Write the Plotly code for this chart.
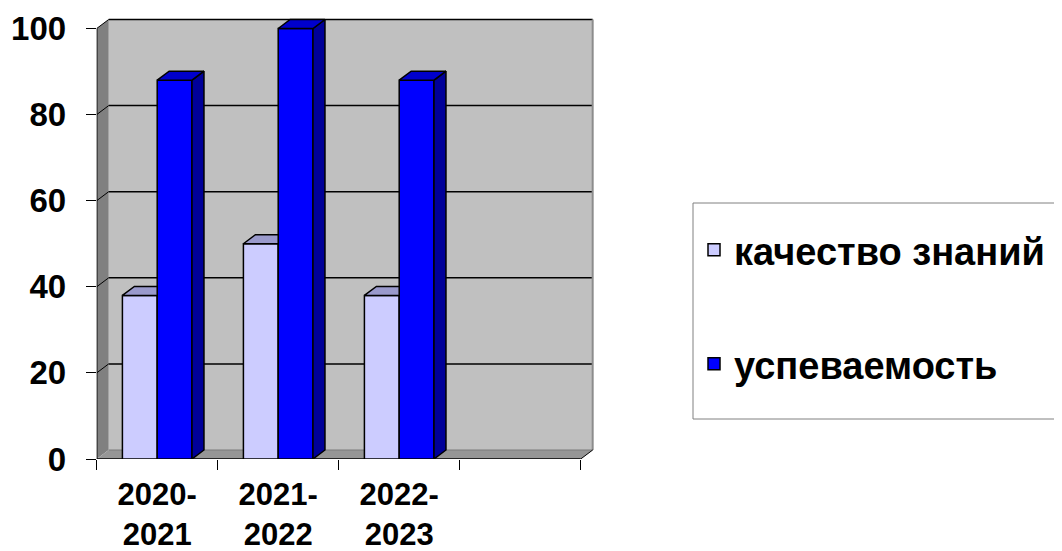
import plotly.graph_objects as go

# ---- data ----
categories = ["2020-<br>2021", "2021-<br>2022", "2022-<br>2023", ""]
series_names = ["качество знаний", "успеваемость"]
quality = [38, 50, 38]
progress = [88, 100, 88]
y_ticks = [0, 20, 40, 60, 80, 100]

# ---- styling / geometry constants ----
OFF = 8                       # page body margin of the html page
W, H = 1062 - OFF, 551 - OFF  # figure size so that it ends at the window edge
FAM = "Liberation Sans, Arial, sans-serif"
FONT = dict(family=FAM, size=33, color="black", weight="bold")
XFONT = dict(family=FAM, size=31, color="black", weight="bold")
LFONT = dict(family=FAM, size=38, color="black", weight="bold")
BARGAP = 0.425
DX, DY = 0.099, 2.09            # 3-D depth in data units
x_left_px, cat_px = 96.7 - OFF, 121.0
x_right_px = 610.0 - OFF
y0_px, y_top_px = 459.0 - OFF, 15.0 - OFF
px_per_unit = 4.305

x_min = -0.5
x_max = (x_right_px - x_left_px) / cat_px - 0.5
y_max = (y0_px - y_top_px) / px_per_unit
n_cat = len(categories)
x_end = n_cat - 0.5

light_front, light_top = "#CCCCFF", "#9A9ACC"
blue_front, blue_top, blue_side = "#0000FF", "#0000CC", "#000099"
EDGE = dict(color="black", width=1.5)

fig = go.Figure()
xs = list(range(len(quality)))
fig.add_trace(go.Bar(x=xs, y=quality, name=series_names[0],
                     marker=dict(color=light_front, line=EDGE), legend="legend"))
fig.add_trace(go.Bar(x=xs, y=progress, name=series_names[1],
                     marker=dict(color=blue_front, line=EDGE), legend="legend2"))

bw = (1 - BARGAP) / 2
# light bars: top faces (clipped where the neighbouring bar hides them)
tx, ty = [], []
for i, v in enumerate(quality):
    a, b = i - bw, i
    tx += [a, b, b, a + DX, a, None]
    ty += [v, v, v + DY, v + DY, v, None]
fig.add_trace(go.Scatter(x=tx, y=ty, fill="toself", fillcolor=light_top, mode="lines",
                         line=EDGE, showlegend=False, hoverinfo="skip"))
# blue bars: top and side faces
tx, ty, sx, sy = [], [], [], []
for i, v in enumerate(progress):
    a, b = i, i + bw
    tx += [a, b, b + DX, a + DX, a, None]
    ty += [v, v, v + DY, v + DY, v, None]
    sx += [b, b + DX, b + DX, b, b, None]
    sy += [0, DY, v + DY, v, 0, None]
fig.add_trace(go.Scatter(x=sx, y=sy, fill="toself", fillcolor=blue_side, mode="lines",
                         line=EDGE, showlegend=False, hoverinfo="skip"))
fig.add_trace(go.Scatter(x=tx, y=ty, fill="toself", fillcolor=blue_top, mode="lines",
                         line=EDGE, showlegend=False, hoverinfo="skip"))

shapes = []
# back wall
shapes.append(dict(type="rect", xref="x", yref="y", x0=x_min + DX, x1=x_end + DX, y0=DY, y1=y_ticks[-1] + DY,
                   fillcolor="#C0C0C0", line=dict(width=0), layer="below"))
# left wall
shapes.append(dict(type="path", xref="x", yref="y",
                   path=f"M{x_min},0 L{x_min + DX},{DY} L{x_min + DX},{y_ticks[-1] + DY} L{x_min},{y_ticks[-1]} Z",
                   fillcolor="#808080", line=dict(width=0), layer="below"))
# floor
shapes.append(dict(type="path", xref="x", yref="y",
                   path=f"M{x_min},0 L{x_end},0 L{x_end + DX},{DY} L{x_min + DX},{DY} Z",
                   fillcolor="#969696", line=dict(width=0), layer="below"))
# gridlines on back and side wall
for k in y_ticks[1:]:
    shapes.append(dict(type="line", xref="x", yref="y", x0=x_min + DX, x1=x_end + DX, y0=k + DY, y1=k + DY,
                       line=dict(color="black", width=1.5), layer="below"))
    shapes.append(dict(type="line", xref="x", yref="y", x0=x_min, x1=x_min + DX, y0=k, y1=k + DY,
                       line=dict(color="black", width=1), layer="below"))
# wall edges
shapes.append(dict(type="line", xref="x", yref="y", x0=x_end + DX, x1=x_end + DX, y0=DY, y1=y_ticks[-1] + DY,
                   line=dict(color="#8C8C8C", width=2), layer="below"))
shapes.append(dict(type="line", xref="x", yref="y", x0=x_min + DX, x1=x_end + DX, y0=DY, y1=DY,
                   line=dict(color="#7A7A7A", width=1), layer="below"))
shapes.append(dict(type="line", xref="x", yref="y", x0=x_end, x1=x_end + DX, y0=0, y1=DY,
                   line=dict(color="black", width=1), layer="below"))
# axis lines
shapes.append(dict(type="line", xref="x", yref="y", x0=x_min, x1=x_min, y0=0, y1=y_ticks[-1],
                   line=dict(color="black", width=1.5), layer="below"))
shapes.append(dict(type="line", xref="x", yref="y", x0=x_min, x1=x_end, y0=0, y1=0,
                   line=dict(color="black", width=1.5), layer="below"))
# legend box (runs off the right edge, so no right border)
lb_x0, lb_x1 = (693 - OFF) / W, 1.05
lb_y0, lb_y1 = (H - (419 - OFF)) / H, (H - (203 - OFF)) / H
shapes.append(dict(type="rect", xref="paper", yref="paper", x0=lb_x0, x1=lb_x1, y0=lb_y0, y1=lb_y1,
                   fillcolor="white", line=dict(width=0), layer="below"))
box_line = dict(color="#808080", width=1)
shapes.append(dict(type="line", xref="paper", yref="paper", x0=lb_x0, x1=lb_x1, y0=lb_y1, y1=lb_y1, line=box_line, layer="below"))
shapes.append(dict(type="line", xref="paper", yref="paper", x0=lb_x0, x1=lb_x1, y0=lb_y0, y1=lb_y0, line=box_line, layer="below"))
shapes.append(dict(type="line", xref="paper", yref="paper", x0=lb_x0, x1=lb_x0, y0=lb_y0, y1=lb_y1, line=box_line, layer="below"))

fig.update_layout(
    width=W, height=H,
    margin=dict(l=0, r=0, t=0, b=0, autoexpand=False),
    paper_bgcolor="white", plot_bgcolor="rgba(0,0,0,0)",
    barmode="group", bargap=BARGAP, bargroupgap=0,
    font=FONT,
    shapes=shapes,
    xaxis=dict(domain=[x_left_px / W, x_right_px / W], range=[x_min, x_max],
               tickvals=list(range(n_cat)), ticktext=categories, ticks="", showgrid=False,
               zeroline=False, showline=False, tickfont=XFONT, ticklabelstandoff=14,
               minor=dict(tickvals=[i - 0.5 for i in range(n_cat + 1)], ticks="outside", ticklen=10,
                          tickcolor="black", tickwidth=1, showgrid=False)),
    yaxis=dict(domain=[(H - y0_px) / H, (H - y_top_px) / H], range=[0, y_max],
               tickvals=y_ticks, ticks="outside", ticklen=10, tickcolor="black", tickwidth=1,
               showgrid=False, zeroline=False, showline=False, tickfont=FONT, ticklabelstandoff=13),
    legend=dict(x=(694 - OFF) / W, y=(H - (250 - OFF)) / H, xanchor="left", yanchor="middle",
                bgcolor="rgba(0,0,0,0)", borderwidth=0, font=LFONT),
    legend2=dict(x=(694 - OFF) / W, y=(H - (364 - OFF)) / H, xanchor="left", yanchor="middle",
                 bgcolor="rgba(0,0,0,0)", borderwidth=0, font=LFONT),
    showlegend=True,
)

fig.write_html("out.html")
